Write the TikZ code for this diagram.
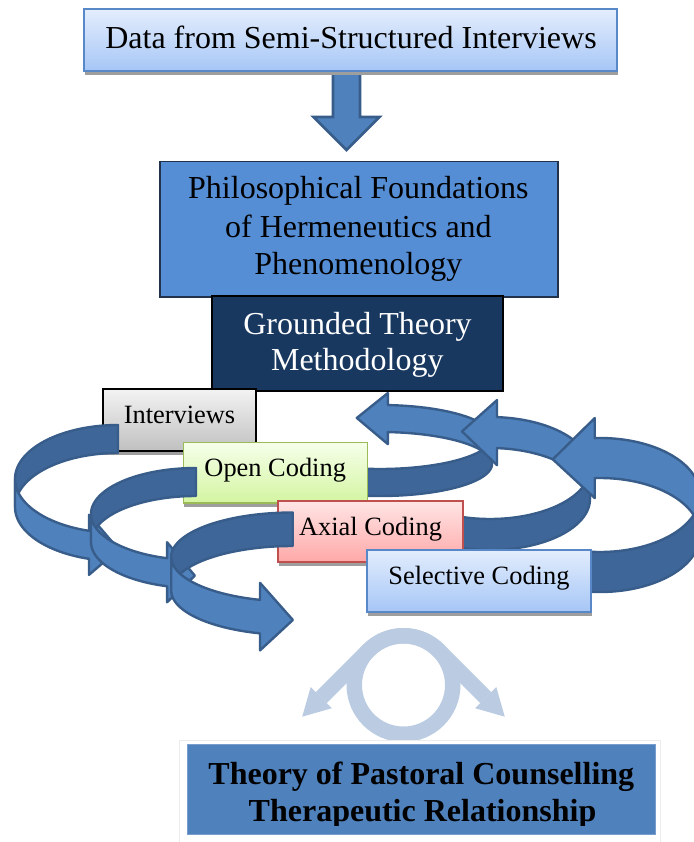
\documentclass[tikz,border=0pt]{standalone}
\usepackage{fontspec}
\setmainfont{Liberation Serif}
\usetikzlibrary{shadows}

% palette
\definecolor{skytop}{RGB}{227,237,253}
\definecolor{skybot}{RGB}{166,198,246}
\definecolor{skyline}{RGB}{88,136,200}
\definecolor{philofill}{RGB}{85,142,213}
\definecolor{philoline}{RGB}{35,50,75}
\definecolor{navyfill}{RGB}{24,56,95}
\definecolor{greytop}{RGB}{243,243,243}
\definecolor{greybot}{RGB}{192,192,192}
\definecolor{greentop}{RGB}{246,255,234}
\definecolor{greenbot}{RGB}{212,245,162}
\definecolor{greenline}{RGB}{155,187,89}
\definecolor{pinktop}{RGB}{255,229,229}
\definecolor{pinkbot}{RGB}{255,168,168}
\definecolor{pinkline}{RGB}{192,80,77}
\definecolor{riblight}{RGB}{79,129,189}
\definecolor{ribdark}{RGB}{62,102,152}
\definecolor{ribline}{RGB}{56,93,138}
\definecolor{cyclecol}{RGB}{187,204,226}
\definecolor{resultfill}{RGB}{79,129,189}
\definecolor{resultline}{RGB}{120,158,208}
\definecolor{framegrey}{RGB}{236,236,236}

\newcommand{\labelL}{\fontsize{32}{38}\selectfont}
\newcommand{\labelS}{\fontsize{26.4}{32}\selectfont}

% ribbon arrow curling to the left and back to the right (head at the end)
% #1 cx, #2 cy, #3 rx, #4 ry, #5 thickness, #6 end angle, #7 head overhang, #8 head length
\newcommand{\leftribbon}[8]{%
  \pgfmathsetmacro\rbXe{#1+#3*cos(#6)}%
  \pgfmathsetmacro\rbYu{#2+#4*sin(#6)}%
  \pgfmathsetmacro\rbYl{\rbYu+#5}%
  \pgfmathsetmacro\rbDx{#3*sin(#6)}%
  \pgfmathsetmacro\rbDy{-#4*cos(#6)}%
  \pgfmathsetmacro\rbDn{veclen(\rbDx,\rbDy)}%
  \pgfmathsetmacro\rbTx{\rbXe+#8*(\rbDx)/\rbDn}%
  \pgfmathsetmacro\rbTy{(\rbYu+\rbYl)/2+#8*(\rbDy)/\rbDn}%
  \filldraw[ribbon, fill=ribdark]
    plot[domain=270:180] ({#1+#3*cos(\x)},{#2+#4*sin(\x)})
    -- plot[domain=180:270] ({#1+#3*cos(\x)},{#2+#4*sin(\x)+#5}) -- cycle;%
  \filldraw[ribbon, fill=riblight]
    plot[domain=180:#6] ({#1+#3*cos(\x)},{#2+#4*sin(\x)})
    -- (\rbXe,{\rbYu-#7}) -- (\rbTx,\rbTy) -- (\rbXe,{\rbYl+#7})
    -- plot[domain=#6:180] ({#1+#3*cos(\x)},{#2+#4*sin(\x)+#5}) -- cycle;%
}

% ribbon arrow curling to the right and back to the left
% #1 cx, #2 cy, #3 rx, #4 ry, #5 thickness, #6 start angle, #7 end angle, #8 head overhang, #9 head length
\newcommand{\rightribbon}[9]{%
  \pgfmathsetmacro\rbXe{#1+#3*cos(#7)}%
  \pgfmathsetmacro\rbYu{#2+#4*sin(#7)}%
  \pgfmathsetmacro\rbYl{\rbYu+#5}%
  \pgfmathsetmacro\rbDx{#3*sin(#7)}%
  \pgfmathsetmacro\rbDy{-#4*cos(#7)}%
  \pgfmathsetmacro\rbDn{veclen(\rbDx,\rbDy)}%
  \pgfmathsetmacro\rbTx{\rbXe+#9*(\rbDx)/\rbDn}%
  \pgfmathsetmacro\rbTy{(\rbYu+\rbYl)/2+#9*(\rbDy)/\rbDn}%
  \filldraw[ribbon, fill=riblight]
    plot[domain=0:#7] ({#1+#3*cos(\x)},{#2+#4*sin(\x)})
    -- (\rbXe,{\rbYu-#8}) -- (\rbTx,\rbTy) -- (\rbXe,{\rbYl+#8})
    -- plot[domain=#7:0] ({#1+#3*cos(\x)},{#2+#4*sin(\x)+#5}) -- cycle;%
  \filldraw[ribbon, fill=ribdark]
    plot[domain=#6:0] ({#1+#3*cos(\x)},{#2+#4*sin(\x)})
    -- plot[domain=0:#6] ({#1+#3*cos(\x)},{#2+#4*sin(\x)+#5}) -- cycle;%
}

\begin{document}
\begin{tikzpicture}[x=1pt,y=-1pt,
  box/.style={rectangle, inner sep=0pt, line width=1.6pt},
  shadowed/.style={general shadow={fill=black!38, shadow xshift=1pt, shadow yshift=-4pt}},
  txt/.style={inner sep=0pt, anchor=base},
  ribbon/.style={draw=ribline, line width=2.4pt, line join=round, samples=60},
  blockarrow/.style={fill=riblight, draw=ribline, line width=2.6pt, line join=miter},
  cyclearc/.style={draw=cyclecol, line width=15.5pt},
  cyclehead/.style={fill=cyclecol}]
\useasboundingbox (0,0) rectangle (693,842);

% downward block arrow
\draw[blockarrow] (333,64) -- (360,64) -- (360,117) -- (379.5,117) -- (346.5,150)
  -- (313.5,117) -- (333,117) -- cycle;

% source box
\node[box, shadowed, draw=skyline, line width=2pt, top color=skytop, bottom color=skybot,
  minimum width=533pt, minimum height=61.5pt] (datab) at (350.5,40.25) {};
\node[txt, font=\labelL] (datat) at (351,49) {Data from Semi-Structured Interviews};

% philosophical foundations
\node[box, draw=philoline, fill=philofill, minimum width=398pt, minimum height=135pt]
  (philob) at (359,229.2) {};
\node[txt, font=\labelL] (philo1) at (358.4,199) {Philosophical Foundations};
\node[txt, font=\labelL] (philo2) at (358.4,237) {of Hermeneutics and};
\node[txt, font=\labelL] (philo3) at (358.4,274) {Phenomenology};

% methodology
\node[box, draw=black, fill=navyfill, minimum width=291pt, minimum height=95pt]
  (gtmb) at (357.5,343.5) {};
\node[txt, font=\labelL, text=white] (gtm1) at (357.5,334.3) {Grounded Theory};
\node[txt, font=\labelL, text=white] (gtm2) at (357.3,370.7) {Methodology};

% return loops on the right (behind the coding boxes)
\rightribbon{380}{437}{112}{32}{27}{105}{-86}{12}{31}
\rightribbon{490}{468}{100}{51}{31}{113}{-86}{17}{35}
\rightribbon{600}{495}{100}{57}{40}{101}{-93}{20}{42}

% coding stages
\node[box, shadowed, draw=black, top color=greytop, bottom color=greybot,
  minimum width=153.3pt, minimum height=62pt] (intb) at (179.35,420) {};
\node[txt, font=\labelS] (intt) at (179.5,423.3) {Interviews};

\node[box, shadowed, draw=greenline, top color=greentop, bottom color=greenbot,
  minimum width=184pt, minimum height=60.4pt] (openb) at (275.3,472.5) {};
\node[txt, font=\labelS] (opent) at (275.2,476.7) {Open Coding};

\node[box, shadowed, draw=pinkline, top color=pinktop, bottom color=pinkbot,
  minimum width=185pt, minimum height=61.3pt] (axb) at (370.2,531.35) {};
\node[txt, font=\labelS] (axt) at (370.5,535) {Axial Coding};

\node[box, shadowed, draw=skyline, top color=skytop, bottom color=skybot,
  minimum width=224pt, minimum height=61.7pt] (selb) at (478.7,580.85) {};
\node[txt, font=\labelS] (selt) at (478.9,584) {Selective Coding};

% forward loops on the left
\leftribbon{118}{479}{103}{54}{28}{106.35}{16}{30}
\leftribbon{196}{514}{105}{46}{28}{106}{16}{28}
\leftribbon{292.7}{557}{121.5}{44.5}{33.5}{105.6}{17}{33}

% cycle symbol
\coordinate (cyc) at (403.5,685);
\coordinate (tanL) at (368.7,650.2);
\coordinate (tanR) at (438.3,650.2);
\coordinate (baseL) at (321.3,697.6);
\coordinate (baseR) at (485.7,697.6);
\draw[cyclearc] (cyc) circle[radius=49.25];
\draw[cyclearc] (baseL) -- (tanL) arc[start angle=225, end angle=315, radius=49.25] -- (baseR);
\fill[cyclehead] (310.7,687.0) -- (302.2,716.7) -- (331.9,708.2) -- cycle;
\fill[cyclehead] (496.3,687.0) -- (504.8,716.7) -- (475.1,708.2) -- cycle;

% result
\draw[draw=framegrey, line width=1pt, fill=white] (179.3,740) rectangle (660,860);
\node[box, draw=resultline, line width=0.8pt, fill=resultfill, minimum width=468.3pt,
  minimum height=90pt] (resb) at (421.55,789.3) {};
\begin{scope}
  \clip (187.4,744.3) rectangle (655.7,825);
  \node[txt, font=\labelL\bfseries] (res1) at (421.3,784.3) {Theory of Pastoral Counselling};
  \node[txt, font=\labelL\bfseries] (res2) at (422.5,821) {Therapeutic Relationship};
\end{scope}
\end{tikzpicture}
\end{document}
